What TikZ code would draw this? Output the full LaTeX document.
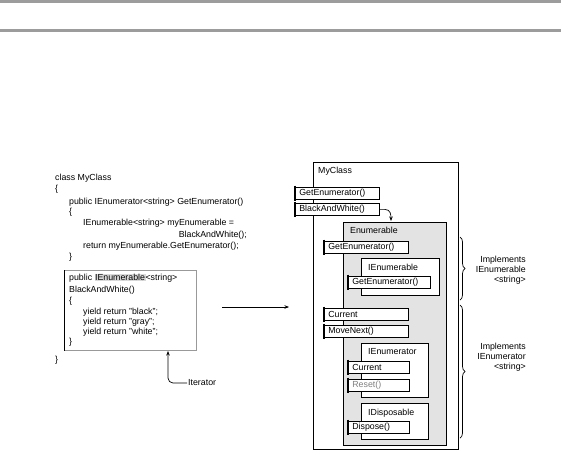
\documentclass[tikz,border=0pt]{standalone}
\usepackage{fontspec}
\setmainfont{Liberation Sans}
\usepackage{tikz}
\usetikzlibrary{arrows.meta,positioning,decorations.pathreplacing}
\def \cs {\fontsize{8.8}{10}\selectfont}
\def \wide {76pt}
\def \narrow {53pt}
\tikzstyle{frame} = [draw,line width=.8pt,rectangle,anchor=north west,inner sep=0]
\tikzstyle{member} = [draw,line width=.7pt,rectangle,fill=white,anchor=north west,inner xsep=4pt,inner ysep=0,minimum height=12pt,align=left,font=\cs]
\tikzstyle{title} = [anchor=north west,inner sep=0,font=\cs]
\tikzstyle{code} = [anchor=west,inner sep=0,font=\cs]
\tikzstyle{note} = [anchor=east,align=right,inner sep=0,font=\cs]
\tikzstyle{tick} = [-,line width=1.2pt]
\tikzstyle{link} = [line width=.7pt,-{Stealth[length=4.5pt,width=3.5pt]}]
\tikzstyle{brace} = [decorate,decoration={brace,amplitude=5pt},line width=.7pt]
\tikzstyle{bar} = [fill=gray!78]

\begin{document}
\begin{tikzpicture}[x=1pt,y=-1pt]
      \useasboundingbox (0,0) rectangle (561,451);
      \fill[bar] (0,0) rectangle (561,3);
      \fill[bar] (0,29) rectangle (561,32);
      % source code
      \node[code] (c1) at (55,178) {class MyClass};
      \node[code] (c2) at (55,189) {\{};
      \node[code] (c3) at (69,202) {public IEnumerator<string> GetEnumerator()};
      \node[code] (c4) at (69,212) {\{};
      \node[code] (c5) at (83,223) {IEnumerable<string> myEnumerable =};
      \node[code,anchor=east] (c6) at (247,235) {BlackAndWhite();};
      \node[code] (c7) at (83,246) {return myEnumerable.GetEnumerator();};
      \node[code] (c8) at (69,257) {\}};
      \node[frame,draw=gray!80,minimum width=132pt,minimum height=80pt] (itbox) at (64,270) {};
      \draw[tick,line width=1pt] (itbox.north west) -- (itbox.south west);
      \node[code] (b1) at (69,278) {public \setlength{\fboxsep}{.5pt}\colorbox{gray!30}{IEnumerable}<string>};
      \node[code] (b2) at (69,290) {BlackAndWhite()};
      \node[code] (b3) at (69,301) {\{};
      \node[code] (b4) at (83,312) {yield return "black";};
      \node[code] (b5) at (83,322) {yield return "gray";};
      \node[code] (b6) at (83,332) {yield return "white";};
      \node[code] (b7) at (69,342) {\}};
      \node[code] (c9) at (55,360) {\}};
      \node[code,inner sep=1pt] (iter) at (187,383) {Iterator};
      \coordinate (itertip) at (168,351);
      \draw[link,rounded corners=5pt] (iter.west) -| (itertip);
      \coordinate (from) at (222,307);
      \coordinate (to) at (289,307);
      \draw[link] (from) -- (to);
      % objects
      \node[frame,minimum width=145pt,minimum height=287pt] (myclass) at (313,162) {};
      \node[title,below right=5pt and 5pt of myclass.north west] (myclassl) {MyClass};
      \node[frame,fill=gray!22,minimum width=103pt,minimum height=223pt] (enum) at (343,222) {};
      \node[title,below right=5pt and 7pt of enum.north west] (enuml) {Enumerable};
      \node[frame,fill=white,minimum width=78pt,minimum height=37pt] (ienum) at (361,258) {};
      \node[title,below right=6pt and 7pt of ienum.north west] (ienuml) {IEnumerable};
      \node[frame,fill=white,minimum width=67pt,minimum height=54pt] (ienumr) at (361,343) {};
      \node[title,below right=5pt and 7pt of ienumr.north west] (ienumrl) {IEnumerator};
      \node[frame,fill=white,minimum width=67pt,minimum height=36pt] (idisp) at (361,403) {};
      \node[title,below right=6pt and 7pt of idisp.north west] (idispl) {IDisposable};
      % members
      \node[member,text width=\wide] (gete) at (295,187) {GetEnumerator()};
      \node[member,text width=\wide] (baw) at (295,203) {BlackAndWhite()};
      \node[member,text width=\wide] (gete2) at (324,241) {GetEnumerator()};
      \node[member,text width=74pt] (gete3) at (348,276) {GetEnumerator()};
      \node[member,text width=\wide] (cur) at (324,308) {Current};
      \node[member,text width=\wide] (next) at (324,325) {MoveNext()};
      \node[member,text width=\narrow] (cur2) at (348,361) {Current};
      \node[member,text width=\narrow,text=gray] (reset) at (348,379) {Reset()};
      \node[member,text width=\narrow] (disp) at (348,421) {Dispose()};
      \foreach \m in {gete,baw,gete2,gete3,cur,next,cur2,reset,disp}
        \draw[tick] ([yshift=1.5pt]\m.north west) -- ([yshift=-1.5pt]\m.south west);
      \coordinate (entry) at (391,221);
      \draw[link] (baw.east) -- ++(5,0) .. controls +(6,0) and +(0,-6) .. (entry);
      % interfaces
      \draw[brace] (460,237) -- (460,300);
      \draw[brace] (460,305) -- (460,438);
      \node[note] (impl1) at (526,270) {Implements\\IEnumerable\\<string>};
      \node[note] (impl2) at (526,357) {Implements\\IEnumerator\\<string>};
    \end{tikzpicture}
\end{document}
